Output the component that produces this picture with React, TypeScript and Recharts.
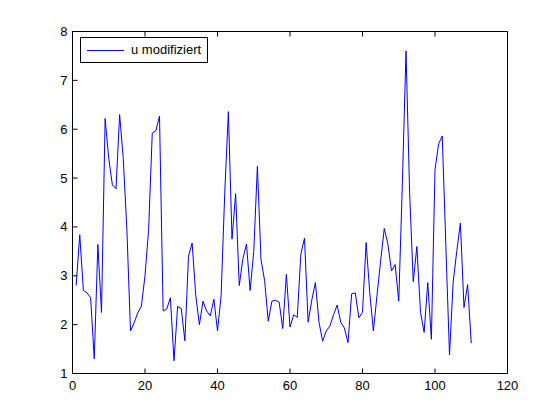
import React from "react";
import { Legend, Line, LineChart, XAxis, YAxis } from "recharts";

const SERIES_NAME = "u modifiziert";
const X_TICKS = [0, 20, 40, 60, 80, 100, 120];
const Y_TICKS = [1, 2, 3, 4, 5, 6, 7, 8];

// samples 1..110
const U_VALUES = [
  2.8, 3.84, 2.7, 2.65, 2.55, 1.3, 3.64, 2.25, 6.22, 5.4,
  4.86, 4.78, 6.3, 5.4, 3.95, 1.87, 2.04, 2.24, 2.38, 3.0,
  3.95, 5.92, 5.97, 6.27, 2.28, 2.32, 2.55, 1.26, 2.37, 2.33,
  1.67, 3.4, 3.67, 2.6, 2.0, 2.48, 2.28, 2.18, 2.52, 1.87,
  2.6, 4.7, 6.36, 3.75, 4.68, 2.8, 3.35, 3.65, 2.7, 3.5,
  5.24, 3.33, 2.9, 2.07, 2.48, 2.5, 2.46, 1.92, 3.03, 1.95,
  2.2, 2.15, 3.45, 3.77, 2.05, 2.5, 2.86, 2.05, 1.66, 1.87,
  1.97, 2.2, 2.4, 2.05, 1.93, 1.63, 2.63, 2.65, 2.14, 2.25,
  3.68, 2.65, 1.87, 2.6, 3.3, 3.97, 3.65, 3.1, 3.23, 2.48,
  4.9, 7.6, 4.7, 2.88, 3.6, 2.25, 1.84, 2.86, 1.7, 5.17,
  5.7, 5.86, 3.6, 1.38, 2.86, 3.5, 4.08, 2.35, 2.82, 1.62,
];

const FONT = "'Liberation Sans', Arial, Helvetica, sans-serif";
const TICK_LEN = 5;

const data = U_VALUES.map((u, i) => ({ n: i + 1, u }));

const BottomTick = ({ x, y, payload }: any) => (
  <g>
    <line x1={x} y1={y} x2={x} y2={y - TICK_LEN} stroke="#000" />
    <text x={x} y={y + 16} textAnchor="middle" fontFamily={FONT} fontSize={13} fill="#000">
      {payload.value}
    </text>
  </g>
);

const TopTick = ({ x, y }: any) => (
  <line x1={x} y1={y} x2={x} y2={y + TICK_LEN} stroke="#000" />
);

const LeftTick = ({ x, y, payload }: any) => (
  <g>
    <line x1={x} y1={y} x2={x + TICK_LEN} y2={y} stroke="#000" />
    <text x={x - 5} y={y} dy="0.35em" textAnchor="end" fontFamily={FONT} fontSize={13} fill="#000">
      {payload.value}
    </text>
  </g>
);

const RightTick = ({ x, y }: any) => (
  <line x1={x} y1={y} x2={x - TICK_LEN} y2={y} stroke="#000" />
);

const LegendBox = ({ payload }: any) => {
  const item = payload && payload[0];
  return (
    <div
      style={{
        width: 128,
        height: 26,
        boxSizing: "border-box",
        border: "1px solid #000",
        background: "#fff",
        position: "relative",
        fontFamily: FONT,
        fontSize: 13,
        color: "#000",
      }}
    >
      <svg width={40} height={24} style={{ position: "absolute", left: 6, top: 0 }}>
        <line x1={0} y1={12.5} x2={37} y2={12.5} stroke={item ? item.color : "#00f"} />
      </svg>
      <span style={{ position: "absolute", left: 50, top: 0, lineHeight: "24px", whiteSpace: "nowrap" }}>
        {item ? item.value : SERIES_NAME}
      </span>
    </div>
  );
};

export default function App() {
  return (
    <div style={{ position: "absolute", left: 0, top: 0, width: 560, height: 420, background: "#fff" }}>
      <LineChart
        width={560}
        height={420}
        data={data}
        margin={{ top: 30.5, right: 51.5, bottom: 0, left: 0 }}
      >
        <XAxis
          xAxisId="bottom"
          dataKey="n"
          type="number"
          domain={[0, 120]}
          ticks={X_TICKS}
          interval={0}
          height={46.5}
          tickSize={0}
          tickMargin={0}
          tick={<BottomTick />}
          axisLine={{ stroke: "#000" }}
          tickLine={false}
        />
        <XAxis
          xAxisId="top"
          orientation="top"
          dataKey="n"
          type="number"
          domain={[0, 120]}
          ticks={X_TICKS}
          interval={0}
          height={1}
          tickSize={0}
          tickMargin={0}
          tick={<TopTick />}
          axisLine={{ stroke: "#000" }}
          tickLine={false}
        />
        <YAxis
          yAxisId="left"
          type="number"
          domain={[1, 8]}
          ticks={Y_TICKS}
          interval={0}
          width={72.5}
          tickSize={0}
          tickMargin={0}
          tick={<LeftTick />}
          axisLine={{ stroke: "#000" }}
          tickLine={false}
        />
        <YAxis
          yAxisId="right"
          orientation="right"
          type="number"
          domain={[1, 8]}
          ticks={Y_TICKS}
          interval={0}
          width={1}
          tickSize={0}
          tickMargin={0}
          tick={<RightTick />}
          axisLine={{ stroke: "#000" }}
          tickLine={false}
        />
        <Line
          xAxisId="bottom"
          yAxisId="left"
          type="linear"
          dataKey="u"
          name={SERIES_NAME}
          stroke="#0000ff"
          strokeWidth={1}
          dot={false}
          activeDot={false}
          isAnimationActive={false}
        />
        <Legend
          layout="horizontal"
          verticalAlign="middle"
          align="center"
          content={<LegendBox />}
          wrapperStyle={{ position: "absolute", left: 80, top: 37, width: 128, height: 26 }}
        />
      </LineChart>
    </div>
  );
}
